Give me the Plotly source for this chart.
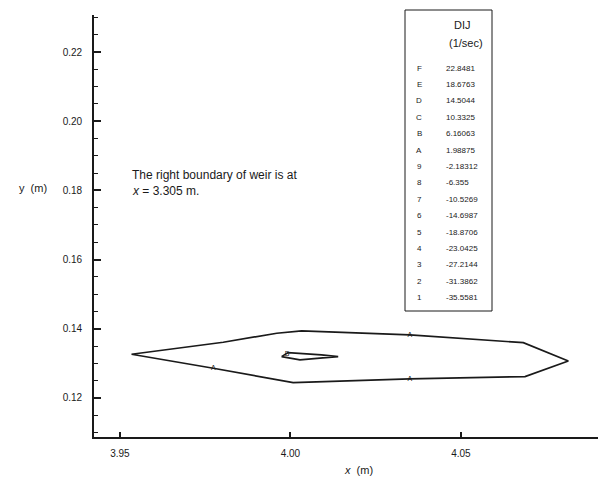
import plotly.graph_objects as go

# Outer contour (level A) and inner contour (level B)
outer_x = [3.9534, 3.9803, 3.9960, 4.0033, 4.0350, 4.0683, 4.0815, 4.0688, 4.0350, 4.0008, 3.9774, 3.9534]
outer_y = [0.13263, 0.13610, 0.13870, 0.13936, 0.13821, 0.13598, 0.13069, 0.12616, 0.12549, 0.12442, 0.12858, 0.13263]
inner_x = [3.9974, 3.9993, 4.0091, 4.0140, 4.0095, 4.0028, 3.9974]
inner_y = [0.13194, 0.13309, 0.13243, 0.13194, 0.13156, 0.13098, 0.13194]

# contour labels on the lines
lab_text = ["A", "A", "A", "B"]
lab_x = [4.0350, 3.9774, 4.0350, 3.9990]
lab_y = [0.13821, 0.12858, 0.12549, 0.13250]

# legend table
level_names = ["F", "E", "D", "C", "B", "A", "9", "8", "7", "6", "5", "4", "3", "2", "1"]
level_values = ["22.8481", "18.6763", "14.5044", "10.3325", "6.16063", "1.98875", "-2.18312",
                "-6.355", "-10.5269", "-14.6987", "-18.8706", "-23.0425", "-27.2144",
                "-31.3862", "-35.5581"]

x_ticks = [3.95, 4.00, 4.05]
y_ticks = [0.12, 0.14, 0.16, 0.18, 0.20, 0.22]

W, H = 599, 488
L, R, T, B = 94, 1, 15, 51
PW, PH = W - L - R, H - T - B

def px(x):
    return (x - L) / PW

def py(y):
    return (H - B - y) / PH

FONT = "Liberation Sans, Arial, sans-serif"
INK = "#1a1a1a"

fig = go.Figure()
fig.add_trace(go.Scatter(x=outer_x, y=outer_y, mode="lines",
                         line=dict(color=INK, width=1.7), hoverinfo="skip"))
fig.add_trace(go.Scatter(x=inner_x, y=inner_y, mode="lines",
                         line=dict(color=INK, width=1.7), hoverinfo="skip"))
fig.add_trace(go.Scatter(x=lab_x, y=lab_y, mode="text", text=lab_text,
                         textfont=dict(family=FONT, size=7, color=INK),
                         textposition="middle center", hoverinfo="skip"))

def note(x, y, text, size, xanchor="center"):
    return dict(x=px(x), y=py(y), xref="paper", yref="paper", text=text,
                showarrow=False, xanchor=xanchor, yanchor="middle",
                font=dict(family=FONT, size=size, color=INK))

annotations = []
# legend header
annotations.append(note(462, 25, "DIJ", 11))
annotations.append(note(466, 43, "(1/sec)", 11))
for i, (nm, val) in enumerate(zip(level_names, level_values)):
    yy = 68 + i * 16.4
    annotations.append(note(419, yy, nm, 8))
    annotations.append(note(444, yy, val, 8, xanchor="left"))

# note text
annotations.append(note(130, 175, "The right boundary of weir is at", 12, xanchor="left"))
annotations.append(note(130, 191, "<i>x</i> = 3.305 m.", 12, xanchor="left"))
# axis titles
annotations.append(note(33, 188, "y  (m)", 11))
annotations.append(note(358, 470, "<i>x</i>  (m)", 11))

shapes = [dict(type="rect", xref="paper", yref="paper",
               x0=px(405), x1=px(492), y0=py(311), y1=py(10),
               line=dict(color=INK, width=1))]

fig.update_layout(
    width=W, height=H,
    margin=dict(l=L, r=R, t=T, b=B),
    paper_bgcolor="white", plot_bgcolor="white",
    showlegend=False,
    annotations=annotations,
    shapes=shapes,
    font=dict(family=FONT, color=INK),
)
fig.update_xaxes(range=[3.9424, 4.0902], tickvals=x_ticks, tickformat=".2f",
                 showgrid=False, zeroline=False, showline=True, linecolor=INK, linewidth=1.6,
                 ticks="inside", ticklen=5, tickcolor=INK, tickwidth=1.5,
                 tickfont=dict(family=FONT, size=10, color=INK), ticklabelstandoff=6)
fig.update_yaxes(range=[0.1087, 0.2307], tickvals=y_ticks, tickformat=".2f",
                 showgrid=False, zeroline=False, showline=True, linecolor=INK, linewidth=1.6,
                 ticks="inside", ticklen=7, tickcolor=INK, tickwidth=1.5,
                 minor=dict(dtick=0.005, tick0=0.12, ticks="inside", ticklen=4, tickcolor=INK, tickwidth=1),
                 tickfont=dict(family=FONT, size=10, color=INK), ticklabelstandoff=8)

fig.write_html("out.html")
